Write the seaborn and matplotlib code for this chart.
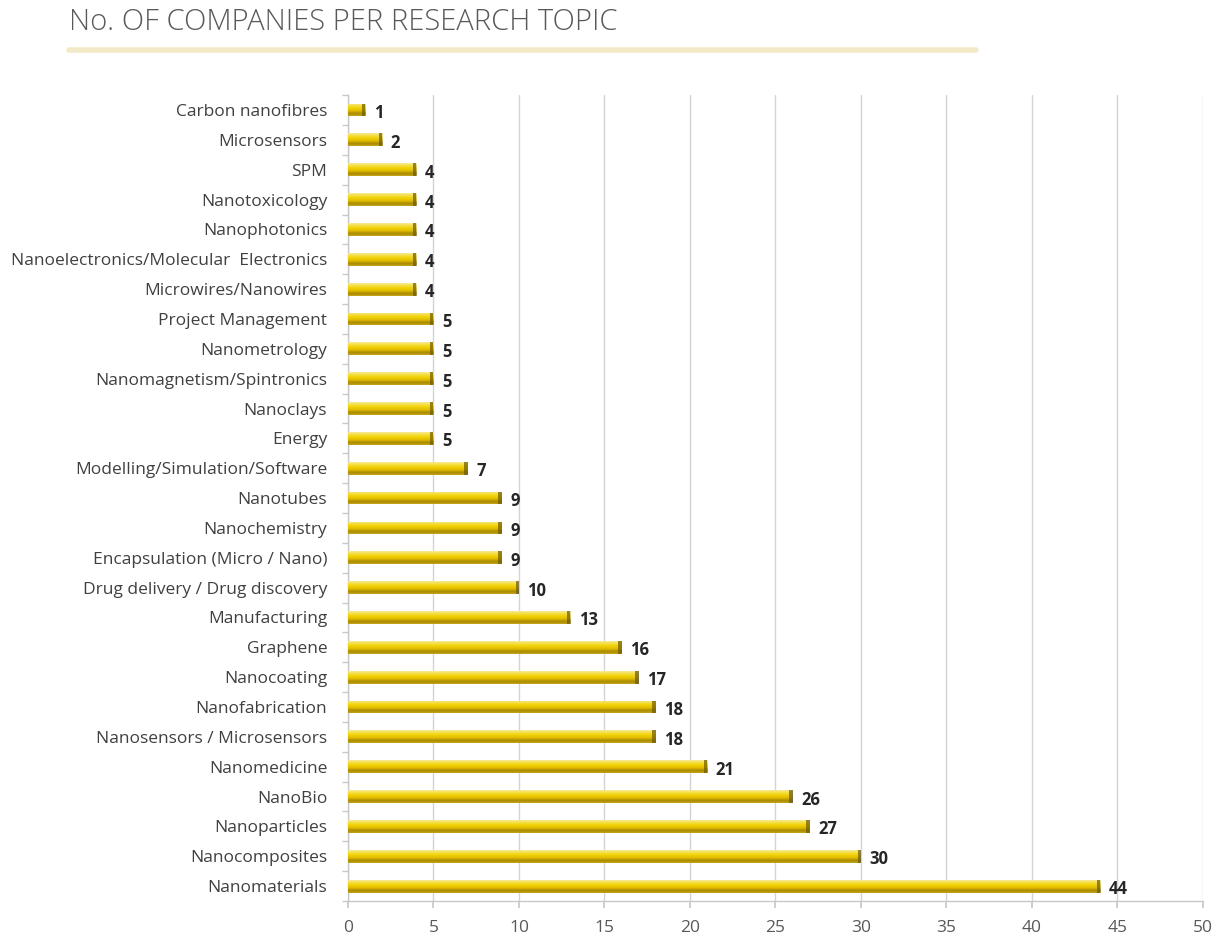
import numpy as np
import pandas as pd
import matplotlib
matplotlib.use("Agg")
import matplotlib.pyplot as plt
from matplotlib.colors import LinearSegmentedColormap
from matplotlib.ticker import FixedLocator
import seaborn as sns

topics = [
    "Carbon nanofibres", "Microsensors", "SPM", "Nanotoxicology", "Nanophotonics",
    "Nanoelectronics/Molecular  Electronics", "Microwires/Nanowires", "Project Management",
    "Nanometrology", "Nanomagnetism/Spintronics", "Nanoclays", "Energy",
    "Modelling/Simulation/Software", "Nanotubes", "Nanochemistry",
    "Encapsulation (Micro / Nano)", "Drug delivery / Drug discovery", "Manufacturing",
    "Graphene", "Nanocoating", "Nanofabrication", "Nanosensors / Microsensors",
    "Nanomedicine", "NanoBio", "Nanoparticles", "Nanocomposites", "Nanomaterials",
]
companies = [1, 2, 4, 4, 4, 4, 4, 5, 5, 5, 5, 5, 7, 9, 9, 9, 10, 13, 16, 17, 18, 18,
             21, 26, 27, 30, 44]
x_ticks = [0, 5, 10, 15, 20, 25, 30, 35, 40, 45, 50]

df = pd.DataFrame({"topic": topics, "companies": companies})

sns.set_theme(style="white")
plt.rcParams["font.family"] = ["Open Sans", "DejaVu Sans"]

fig = plt.figure(figsize=(12.24, 9.42), dpi=100)
ax = fig.add_axes([0.2843, 0.0435, 0.6985, 0.8555])

sns.barplot(data=df, x="companies", y="topic", orient="h", width=0.43,
            color="#e8c80a", edgecolor="none", ax=ax)

# cylinder-like shading on every bar: pale top, bright middle, dark lower band
gold = LinearSegmentedColormap.from_list(
    "gold", ["#f7eb98", "#f4de40", "#f0d000", "#e0bc00", "#a88a00", "#c4a418"])
grad = np.linspace(0, 1, 64).reshape(-1, 1)
for patch in ax.patches:
    x0, y0 = patch.get_x(), patch.get_y()
    w, h = patch.get_width(), patch.get_height()
    im = ax.imshow(grad, cmap=gold, aspect="auto", interpolation="bilinear",
                   extent=(x0, x0 + w, y0 + h, y0), zorder=3)
    im.set_clip_path(patch)
    # darker rounded end
    ax.fill_between([x0 + w - 0.2, x0 + w], y0, y0 + h, color="#6e5a00",
                    alpha=0.7, lw=0, zorder=4)

ax.set_xlim(0, 50)
ax.set_ylim(len(topics) - 0.5, -0.5)
ax.set_xticks(x_ticks)
ax.set_xlabel("")
ax.set_ylabel("")

# value labels
for i, v in enumerate(companies):
    ax.text(v + 0.5, i + 0.1, str(v), va="center", ha="left", fontsize=12,
            fontweight="bold", color="#262626", zorder=5)

ax.xaxis.grid(True, color="#d4d4d4", lw=1)
ax.set_axisbelow(True)
for s in ["top", "right"]:
    ax.spines[s].set_visible(False)
for s in ["left", "bottom"]:
    ax.spines[s].set_color("#c8c8c8")
    ax.spines[s].set_linewidth(1)

# small category-boundary ticks on the left spine
ax.yaxis.set_minor_locator(FixedLocator(np.arange(-0.5, len(topics), 1.0)))
ax.tick_params(axis="y", which="minor", length=4, color="#c8c8c8", left=True)
ax.tick_params(axis="y", which="major", length=0, labelsize=12.5,
               labelcolor="#404040", pad=15)
ax.tick_params(axis="x", length=5, color="#c8c8c8", labelsize=12.5,
               labelcolor="#595959", pad=9, direction="out", bottom=True)

fig.text(0.056, 0.992, "No. OF COMPANIES PER RESEARCH TOPIC", ha="left", va="top",
         fontsize=21, color="#595959", fontweight="light")
fig.add_artist(plt.Line2D([0.056, 0.797], [0.947, 0.947], color="#f2eac6", lw=4,
                          transform=fig.transFigure))

fig.savefig("out.png", dpi=100, facecolor="white")
